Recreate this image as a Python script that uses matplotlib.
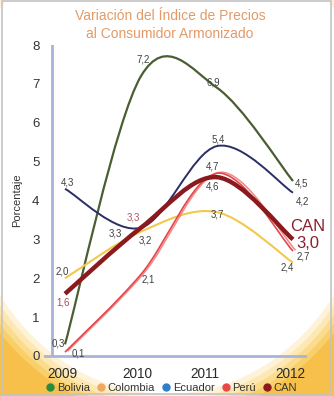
import matplotlib.pyplot as plt
import numpy as np
from matplotlib.path import Path
from matplotlib.patches import PathPatch, Ellipse, Rectangle
from matplotlib.lines import Line2D
import matplotlib.patheffects as pe

plt.rcParams['font.family'] = ['Liberation Sans', 'DejaVu Sans']

years = ["2009", "2010", "2011", "2012"]
bolivia = [0.3, 7.2, 6.9, 4.5]
colombia = [2.0, 3.2, 3.7, 2.4]
ecuador = [4.3, 3.3, 5.4, 4.2]
peru = [0.1, 2.1, 4.7, 2.7]
can = [1.6, 3.3, 4.6, 3.0]
labels_txt = ["Bolivia", "Colombia", "Ecuador", "Perú", "CAN"]


def smooth_path(xs, ys):
    # bezier segments like the excel "smoothed line"
    pts = np.column_stack([xs, ys]).astype(float)
    n = len(pts)
    verts = [pts[0]]
    codes = [Path.MOVETO]
    for i in range(n - 1):
        p0 = pts[i - 1] if i > 0 else pts[i]
        p1 = pts[i]
        p2 = pts[i + 1]
        p3 = pts[i + 2] if i + 2 < n else pts[i + 1]
        c1 = p1 + (p2 - p0) / 6.0
        c2 = p2 - (p3 - p1) / 6.0
        verts += [c1, c2, p2]
        codes += [Path.CURVE4] * 3
    return Path(verts, codes)


W, H = 334, 396
fig = plt.figure(figsize=(W / 100, H / 100), dpi=100)
fig.patch.set_facecolor('#f7c04a')

# background glow: white ellipse fading to yellow at corners
bg = fig.add_axes([0, 0, 1, 1])
bg.set_xlim(0, W)
bg.set_ylim(H, 0)
bg.axis('off')
glow = ['#f9cf6a', '#fbdc8e', '#fde8b4', '#fef3d8', '#ffffff']
for k, c in enumerate(glow):
    s = 1.10 - k * 0.025
    bg.add_patch(Ellipse((167, 152), 2 * 207 * s, 2 * 242 * s, color=c, lw=0))
bg.add_patch(Rectangle((2, 1), W - 5, H - 3, fill=False, ec='#c4c4c4', lw=1.2))

ax = fig.add_axes([45 / W, 1 - 356 / H, 260 / W, 311 / H])
ax.patch.set_alpha(0)
x = np.arange(len(years))
ax.set_xlim(-0.263, 3.158)
ax.set_ylim(0, 8)

series = [
    (bolivia, '#4b5e32', 1.6),
    (colombia, '#f2c94c', 1.5),
    (ecuador, '#2b2d66', 1.4),
    (peru, '#e2474a', 1.2),
    (can, '#8b1a1f', 3.2),
]
for vals, col, lw in series:
    patch = PathPatch(smooth_path(x, vals), fill=False, ec=col, lw=lw,
                      capstyle='butt', zorder=3)
    if vals is peru:
        patch.set_path_effects([pe.SimpleLineShadow(offset=(1.8, 0.6), shadow_color='#f07070', alpha=0.8),
                                pe.Normal()])
    ax.add_patch(patch)

# axes lines
for s in ['top', 'right', 'left']:
    ax.spines[s].set_visible(False)
ax.spines['bottom'].set_color('#a9b3da')
ax.spines['bottom'].set_linewidth(2)
ax.axvline(-0.171, color='#a9b3da', lw=2, zorder=1)

ax.set_xticks([-0.03, 0.95, 1.84, 2.96])
ax.set_xticklabels(years, fontsize=9.8, color='#2a2a2a')
ax.set_yticks(range(0, 9))
ax.tick_params(axis='x', length=0, pad=8)
ax.tick_params(axis='y', length=0, pad=4, labelsize=9.5, labelcolor='#333333')
fig.text(17 / W, 1 - 200 / H, "Porcentaje", rotation=90, ha='center', va='center',
         fontsize=8, color='#333333')

# data labels (series, index, dx px, dy px, colour)
g = '#404040'
lab = [
    (bolivia, 0, -7, 1, g), (bolivia, 1, 2, 17, g), (bolivia, 2, -4, 5, g), (bolivia, 3, 9, -2, g),
    (ecuador, 0, 3, 6, g), (ecuador, 1, -26, -6, g), (ecuador, 2, 1, 7, g), (ecuador, 3, 10, -9, g),
    (colombia, 0, -3, 7, g), (colombia, 1, 4, -9, g), (colombia, 2, 0, -2, g), (colombia, 3, -6, -5, g),
    (peru, 0, 13, -1, g), (peru, 1, 7, -5, g), (peru, 2, -4, 7, g), (peru, 3, 10, -5, g),
    (can, 0, -2, -9, '#a0505a'), (can, 1, -8, 10, '#b05868'), (can, 2, -4, -9, g),
]
for vals, i, dx, dy, col in lab:
    ax.annotate(f"{vals[i]:.1f}".replace('.', ','), (x[i], vals[i]), xytext=(dx * 0.72, dy * 0.72),
                textcoords='offset points', ha='center', va='center', fontsize=7, color=col)
ax.annotate("CAN", (x[3], can[3]), xytext=(15 * 0.72, 13 * 0.72), textcoords='offset points',
            ha='center', va='center', fontsize=12, color='#8b2030')
ax.annotate(f"{can[3]:.1f}".replace('.', ','), (x[3], can[3]), xytext=(15 * 0.72, -4 * 0.72),
            textcoords='offset points', ha='center', va='center', fontsize=12, color='#8b2030')

fig.text(170 / W, 1 - 16 / H, "Variación del Índice de Precios", ha='center', va='center',
         fontsize=10, color='#e39a68')
fig.text(170 / W, 1 - 34 / H, "al Consumidor Armonizado", ha='center', va='center',
         fontsize=10, color='#e39a68')

leg_cols = ['#2e8b3e', '#f0a860', '#2f7fc8', '#e84848', '#8b1a1f']
handles = [Line2D([], [], ls='none', marker='o', ms=5, mfc=c, mec=c) for c in leg_cols]
fig.legend(handles, labels_txt, loc='center', bbox_to_anchor=(172 / W, 1 - 388 / H), ncol=5,
           frameon=False, fontsize=8, handlelength=0.6, handletextpad=0.3, columnspacing=0.7,
           labelcolor='#333333')

fig.savefig('out.png', dpi=100)
